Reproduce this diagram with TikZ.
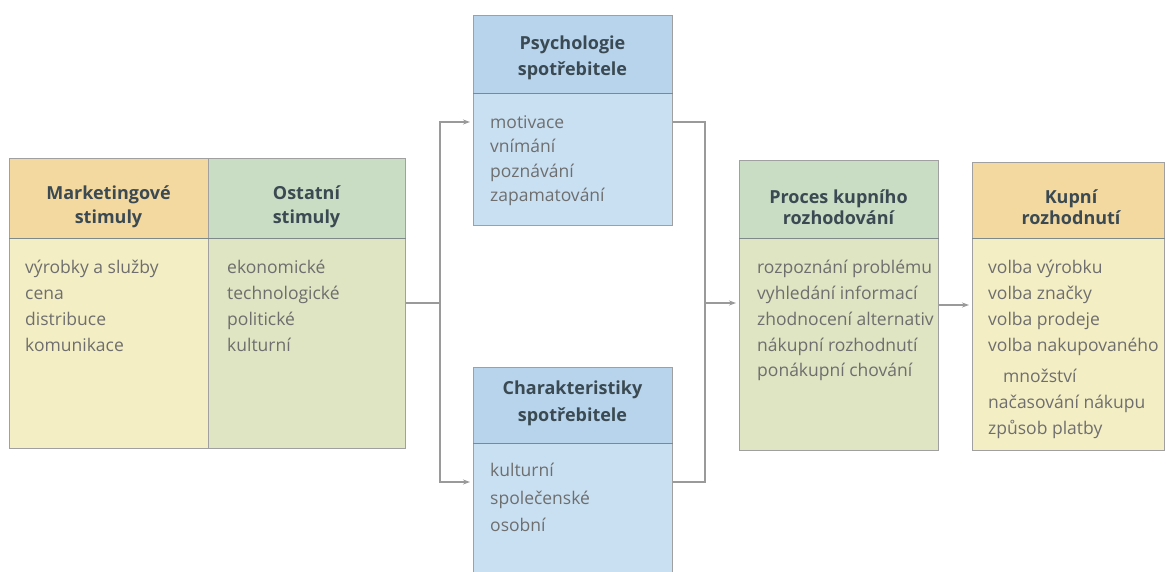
\documentclass[tikz,border=0pt]{standalone}
\usepackage{fontspec}
\setmainfont{Open Sans}
\usetikzlibrary{arrows.meta}
\definecolor{mhead}{HTML}{F3D9A0}
\definecolor{mbody}{HTML}{F4EEC4}
\definecolor{ghead}{HTML}{C9DCC4}
\definecolor{gbody}{HTML}{DFE4C2}
\definecolor{bhead}{HTML}{B7D4EC}
\definecolor{bbody}{HTML}{C9E0F2}
\definecolor{boxline}{HTML}{A0A0A0}
\definecolor{sepline}{HTML}{7E8A8A}
\definecolor{linecol}{HTML}{9A9A9A}
\definecolor{hdrcol}{HTML}{3B4A52}
\definecolor{bodycol}{HTML}{6E6E6E}
\tikzset{
  box/.style={draw=boxline, line width=0.8pt, anchor=north west, inner sep=0pt},
  hdrtext/.style={font=\fontsize{18}{24}\selectfont\bfseries, text=hdrcol, align=center, inner sep=0pt},
  bodytext/.style={font=\fontsize{17.5}{25.8}\selectfont, text=bodycol, align=left, anchor=north west, inner sep=0pt},
  sep/.style={draw=sepline, line width=1pt},
  conn/.style={draw=linecol, line width=1.6pt},
  arr/.style={conn, -{Stealth[length=7pt,width=5pt]}}
}
\begin{document}
\begin{tikzpicture}[x=1pt,y=-1pt]
\useasboundingbox (0,0) rectangle (1167,572);
% Marketingove stimuly
\node[box, fill=mbody, minimum width=199pt, minimum height=210pt] (mkb) at (9,238) {};
\node[box, fill=mhead, minimum width=199pt, minimum height=80pt] (mkh) at (9,158) {};
\draw[sep] (mkh.south west) -- (mkh.south east);
\node[hdrtext] (mkl) at (108.5,207) {Marketingové\\stimuly};
\node[bodytext] (mkt) at (25,260) {výrobky a služby\\cena\\distribuce\\komunikace};
% Ostatni stimuly
\node[box, fill=gbody, minimum width=197pt, minimum height=210pt] (osb) at (208,238) {};
\node[box, fill=ghead, minimum width=197pt, minimum height=80pt] (osh) at (208,158) {};
\draw[sep] (osh.south west) -- (osh.south east);
\node[hdrtext] (osl) at (306.5,207) {Ostatní\\stimuly};
\node[bodytext] (ost) at (227,260) {ekonomické\\technologické\\politické\\kulturní};
% Psychologie
\node[box, fill=bbody, minimum width=199pt, minimum height=132pt] (psb) at (473,93) {};
\node[box, fill=bhead, minimum width=199pt, minimum height=78pt] (psh) at (473,15) {};
\draw[sep] (psh.south west) -- (psh.south east);
\node[hdrtext, font=\fontsize{18}{26}\selectfont\bfseries] (psl) at (572.5,58) {Psychologie\\spotřebitele};
\node[bodytext, font=\fontsize{17.5}{24.6}\selectfont] (pst) at (490,115) {motivace\\vnímání\\poznávání\\zapamatování};
% Charakteristiky
\node[box, fill=bbody, minimum width=199pt, minimum height=140pt] (chb) at (473,443) {};
\node[box, fill=bhead, minimum width=199pt, minimum height=76pt] (chh) at (473,367) {};
\draw[sep] (chh.south west) -- (chh.south east);
\node[hdrtext, font=\fontsize{18}{27}\selectfont\bfseries] (chl) at (572.5,403) {Charakteristiky\\spotřebitele};
\node[bodytext, font=\fontsize{17.5}{27.5}\selectfont] (cht) at (490,463) {kulturní\\společenské\\osobní};
% Proces
\node[box, fill=gbody, minimum width=199pt, minimum height=212pt] (prb) at (739,238) {};
\node[box, fill=ghead, minimum width=199pt, minimum height=78pt] (prh) at (739,160) {};
\draw[sep] (prh.south west) -- (prh.south east);
\node[hdrtext, font=\fontsize{18}{21}\selectfont\bfseries] (prl) at (838.5,207) {Proces kupního\\rozhodování};
\node[bodytext] (prt) at (757,260) {rozpoznání problému\\vyhledání informací\\zhodnocení alternativ\\nákupní rozhodnutí\\ponákupní chování};
% Kupni rozhodnuti
\node[box, fill=mbody, minimum width=192pt, minimum height=212pt] (kub) at (972,238) {};
\node[box, fill=mhead, minimum width=192pt, minimum height=76pt] (kuh) at (972,162) {};
\draw[sep] (kuh.south west) -- (kuh.south east);
\node[hdrtext, font=\fontsize{18}{21}\selectfont\bfseries] (kul) at (1071,207) {Kupní\\rozhodnutí};
\node[bodytext, font=\fontsize{17.5}{26}\selectfont] (kut) at (988,260) {volba výrobku\\volba značky\\volba prodeje\\volba nakupovaného\\[5pt]\hspace*{15pt}množství\\načasování nákupu\\způsob platby};
% connectors
\coordinate (split) at (440,303);
\coordinate (join) at (705,303);
\coordinate (psin) at (470,122);
\coordinate (chin) at (470,482);
\draw[conn] (osb.east |- split) -- (split);
\draw[arr] (split) |- (psin);
\draw[arr] (split) |- (chin);
\draw[conn] (psb.east |- psin) -| (join);
\draw[conn] (chb.east |- chin) -| (join);
\draw[arr] (join) -- ([xshift=-3pt]prb.west |- join);
\draw[arr] (prb.east |- 0,305) -- ([xshift=-3pt]kub.west |- 0,305);
\end{tikzpicture}
\end{document}
